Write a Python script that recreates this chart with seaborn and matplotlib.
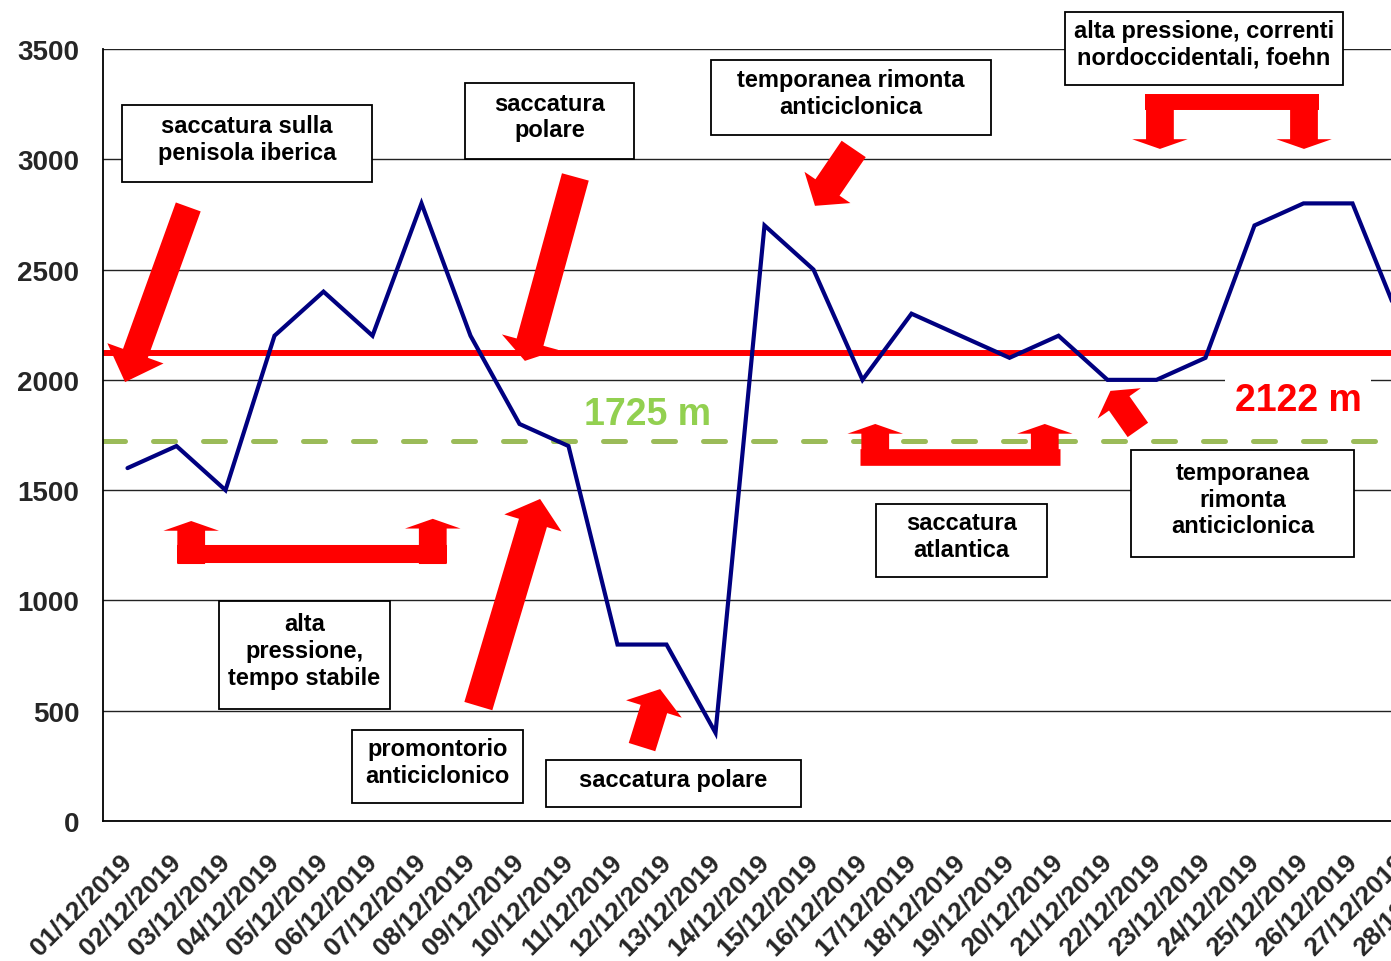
import numpy as np
import pandas as pd
import matplotlib.pyplot as plt
import matplotlib.transforms as mtransforms
from matplotlib.patches import Rectangle
import seaborn as sns

# dati: quota dello zero termico giornaliero (m), dicembre 2019
giorni = [f"{g:02d}/12/2019" for g in range(1, 32)]
quota = [1600, 1700, 1500, 2200, 2400, 2200, 2800, 2200, 1800, 1700,
         800, 800, 400, 2700, 2500, 2000, 2300, 2200, 2100, 2200,
         2000, 2000, 2100, 2700, 2800, 2800, 2250]
media_mese = 2122
media_clima = 1725

df = pd.DataFrame({"giorno": giorni[:len(quota)], "quota": quota})
df["pos"] = np.arange(len(df))

# riquadri di testo: (testo, x centro, y centro, larghezza, altezza) in unità dati
riquadri = [
    ("saccatura sulla\npenisola iberica", 2.44, 3072, 5.10, 349),
    ("saccatura\npolare", 8.61, 3174, 3.45, 345),
    ("temporanea rimonta\nanticiclonica", 14.77, 3280, 5.71, 340),
    ("alta pressione, correnti\nnordoccidentali, foehn", 21.97, 3502, 5.67, 331),
    ("alta\npressione,\ntempo stabile", 3.61, 753, 3.49, 490),
    ("promontorio\nanticiclonico", 6.33, 247, 3.49, 331),
    ("saccatura polare", 11.14, 170, 5.20, 213),
    ("saccatura\natlantica", 17.02, 1272, 3.49, 331),
    ("temporanea\nrimonta\nanticiclonica", 22.76, 1439, 4.55, 485),
]

# frecce: (coda, punta, larghezza coda, larghezza testa, lunghezza testa) -> punti
frecce = [
    ((1.24, 2784), (-0.05, 1990), 19, 43, 22),
    ((9.14, 2920), (8.11, 2086), 20, 42, 14),
    ((14.82, 3047), (14.03, 2789), 21, 40, 16),
    ((7.16, 521), (8.42, 1460), 21, 43, 18),
    ((10.50, 335), (10.87, 598), 20, 42, 15),
    ((20.62, 1773), (20.06, 1950), 18, 38, 11),
]

# frecce a parentesi: (x inizio, x fine, y barra, spessore, [(x freccia, y coda, y punta)])
parentesi = [
    (1.01, 6.52, 1211, 13, [(1.30, 1165, 1360), (6.23, 1165, 1370)]),
    (14.95, 19.03, 1650, 12, [(15.26, 1614, 1800), (18.72, 1614, 1800)]),
    (20.77, 24.32, 3258, 11.5, [(21.07, 3292, 3047), (24.01, 3292, 3047)]),
]

sns.set_style("white")
plt.rcParams["font.family"] = ["Liberation Sans", "DejaVu Sans"]
plt.rcParams["font.weight"] = "bold"

fig = plt.figure(figsize=(13.91, 9.62), dpi=100, facecolor="white")
ax = fig.add_axes([103 / 1391, 140 / 962, 1519 / 1391, 772 / 962])

ax.axhline(media_mese, color="#FF0000", lw=4.3, zorder=2)
ax.axhline(media_clima, color="#9BBB59", lw=3.6, zorder=2,
           dashes=(4.4, 5.6), dash_capstyle="round")

sns.lineplot(data=df, x="pos", y="quota", color="#000080", lw=3.0, ax=ax,
             zorder=3)
ax.lines[-1].set_solid_joinstyle("miter")

ax.set_xlim(-0.5, 30.5)
ax.set_ylim(0, 3500)
ax.set_yticks(np.arange(0, 3501, 500))
ax.set_xticks(np.arange(len(giorni)))
ax.set_xticklabels(giorni, rotation=45, ha="right", rotation_mode="anchor")
ax.set_xticks(np.arange(-0.5, len(giorni)), minor=True)
ax.tick_params(axis="x", which="major", length=0, pad=20, labelsize=19)
ax.tick_params(axis="x", which="minor", length=6.5, width=1.3, color="black")
ax.tick_params(axis="y", length=6, width=1.3, color="black", pad=11,
               labelsize=20)
for lab in ax.get_xticklabels() + ax.get_yticklabels():
    lab.set_fontweight("bold")
ax.set_xlabel("")
ax.set_ylabel("")
ax.set_axisbelow(True)
ax.yaxis.grid(True, color="#222222", lw=1.0)
sns.despine(ax=ax, top=True, right=True)
for s in ("left", "bottom"):
    ax.spines[s].set_color("black")
    ax.spines[s].set_linewidth(1.3)

# etichette dei valori medi
ax.text(10.62, 1800, f"{media_clima} m", color="#92D050", fontsize=27,
        fontweight="bold", ha="center", va="baseline", zorder=1.8,
        bbox=dict(boxstyle="square,pad=0.25", fc="white", ec="none"))
ax.text(23.89, 1863, f"{media_mese} m", color="#FF0000", fontsize=27,
        fontweight="bold", ha="center", va="baseline", zorder=1.8,
        bbox=dict(boxstyle="square,pad=0.25", fc="white", ec="none"))

for testo, xc, yc, w, h in riquadri:
    ax.add_patch(Rectangle((xc - w / 2, yc - h / 2), w, h, fc="white",
                           ec="black", lw=1.3, zorder=4, clip_on=False))
    ax.text(xc, yc + 20, testo, ha="center", va="center", fontsize=17,
            fontweight="bold", color="black", zorder=5, clip_on=False)

for coda, punta, tw, hw, hl in frecce:
    ax.annotate("", xy=punta, xytext=coda, zorder=6,
                arrowprops=dict(arrowstyle=f"simple,head_length={hl},head_width={hw},tail_width={tw}",
                                mutation_scale=1, fc="#FF0000", ec="none",
                                shrinkA=0, shrinkB=0))

for x0, x1, yb, sp, punte in parentesi:
    ax.plot([x0, x1], [yb, yb], color="#FF0000", lw=sp,
            solid_capstyle="butt", zorder=6)
    for xf, yc0, yp in punte:
        ax.annotate("", xy=(xf, yp), xytext=(xf, yc0), zorder=6,
                    arrowprops=dict(arrowstyle="simple,head_length=7,head_width=40,tail_width=20",
                                    mutation_scale=1, fc="#FF0000", ec="none",
                                    shrinkA=0, shrinkB=0))

# sposta leggermente a sinistra le etichette delle date
sposta = mtransforms.ScaledTranslation(-8 / 100, 0, fig.dpi_scale_trans)
for lab in ax.get_xticklabels():
    lab.set_transform(lab.get_transform() + sposta)

fig.savefig("out.png", dpi=100)
